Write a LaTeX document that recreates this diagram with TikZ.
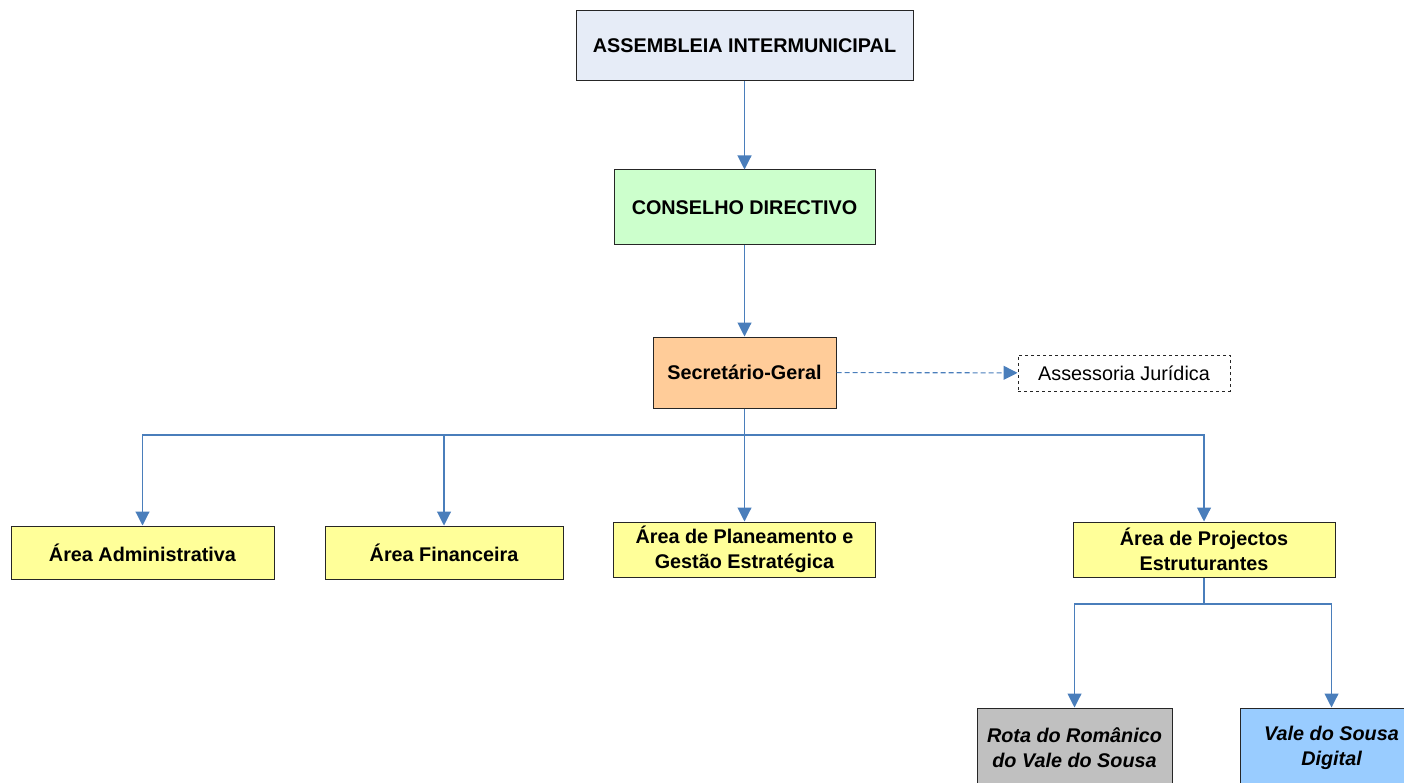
\documentclass[tikz,border=0pt]{standalone}
\usepackage{fontspec}
\setmainfont{Liberation Sans}
\usetikzlibrary{arrows.meta}
\definecolor{linkblue}{HTML}{4A7EBB}
\definecolor{asmfill}{HTML}{E6ECF7}
\definecolor{confill}{HTML}{CCFFCC}
\definecolor{secfill}{HTML}{FFCC99}
\definecolor{areafill}{HTML}{FFFF99}
\definecolor{rotafill}{HTML}{C0C0C0}
\definecolor{valefill}{HTML}{99CCFF}
\tikzset{
  box/.style={draw=black!85, line width=1pt, inner sep=0pt, align=center,
    font=\fontsize{19.8}{24.5}\selectfont\bfseries},
  conn/.style={draw=linkblue, line width=1.1pt, -{Triangle[width=14pt,length=14pt]}},
  dconn/.style={conn, dash pattern=on 5pt off 3pt},
}
\begin{document}
\begin{tikzpicture}[x=1pt,y=-1pt]
\useasboundingbox (0,0) rectangle (1404,783);
\clip (0,0) rectangle (1404,783);
\node[box, fill=asmfill, minimum width=337pt, minimum height=70pt] (asm) at (744.5,46) {ASSEMBLEIA INTERMUNICIPAL};
\node[box, fill=confill, minimum width=261pt, minimum height=75pt] (con) at (744.5,207.5) {CONSELHO DIRECTIVO};
\node[box, fill=secfill, minimum width=183pt, minimum height=71pt] (sec) at (744.5,372.5) {Secretário-Geral};
\node[box, dashed, font=\fontsize{19.8}{24.5}\selectfont, minimum width=212pt, minimum height=36pt] (ass) at (1124,373) {Assessoria Jurídica};
\node[box, fill=areafill, minimum width=263pt, minimum height=53pt] (adm) at (142.5,552.5) {Área Administrativa};
\node[box, fill=areafill, minimum width=238pt, minimum height=53pt] (fin) at (444,552.5) {Área Financeira};
\node[box, fill=areafill, minimum width=262pt, minimum height=55pt] (pla) at (744.5,549.5) {Área de Planeamento e\\Gestão Estratégica};
\node[box, fill=areafill, minimum width=262pt, minimum height=55pt] (pro) at (1204,549.5) {Área de Projectos\\Estruturantes};
\node[box, fill=rotafill, minimum width=195pt, minimum height=79pt, font=\fontsize{19.8}{25}\selectfont\bfseries\itshape] (rota) at (1074.5,747.5) {Rota do Românico\\do Vale do Sousa};
\node[box, fill=valefill, minimum width=183pt, minimum height=79pt, font=\fontsize{19.8}{25}\selectfont\bfseries\itshape] (vale) at (1331.5,747.5) {Vale do Sousa\\Digital};
\coordinate (bus) at (744.5,435);
\coordinate (bus2) at (1204,604);
\draw[conn] (asm) -- (con);
\draw[conn] (con) -- (sec);
\draw[dconn] (sec) -- (ass);
\draw[conn] (sec.south) -- (pla.north);
\draw[conn] (sec.south) -- (bus) -| (adm.north);
\draw[conn] (bus) -| (fin.north);
\draw[conn] (bus) -| (pro.north);
\draw[conn] (pro.south) -- (bus2) -| (rota.north);
\draw[conn] (bus2) -| (vale.north);
\end{tikzpicture}
\end{document}
